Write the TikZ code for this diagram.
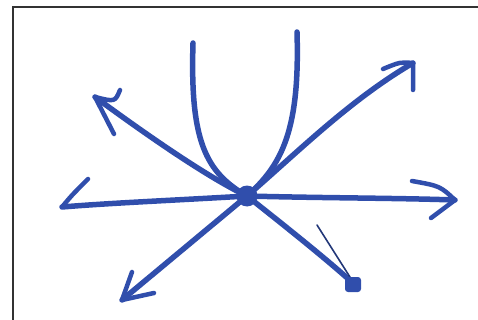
\documentclass[tikz,border=0pt]{standalone}
\begin{document}
\begin{tikzpicture}[x=1pt,y=-1pt,
  ink/.style={draw=penblue,line width=5.5pt,line cap=round,line join=round},
  barb/.style={draw=penblue,line width=4.5pt,line cap=round,line join=round},
  thinbarb/.style={draw=penblue!70!black,line width=1.6pt,line cap=round}]
\definecolor{penblue}{RGB}{48,78,172}
\useasboundingbox (0,0) rectangle (478,320);
% frame (left and top edges visible)
\draw[line width=2pt,black!80] (12.5,320) -- (12.5,7) -- (478,7);
% centre node
\node[circle,fill=penblue,inner sep=0pt,minimum size=21pt] (c) at (247,196) {};
% ray ends
\coordinate (L) at (62,207);
\coordinate (R) at (455,200);
\coordinate (UL) at (95,97);
\coordinate (UR) at (413,63);
\coordinate (DL) at (122,300);
\coordinate (DR) at (355,285);
\coordinate (CL) at (193,43);
\coordinate (CR) at (297,32);
% rays
\draw[ink] (c.center) .. controls (180,200) and (110,203) .. (L);
\draw[ink] (c.center) .. controls (320,198) and (400,198) .. (R);
\draw[ink] (c.center) .. controls (205,176) and (140,130) .. (UL);
\draw[ink] (c.center) .. controls (300,150) and (350,100) .. (UR);
\draw[ink] (c.center) -- (DL);
\draw[ink] (c.center) .. controls (290,230) and (330,262) .. (DR);
\draw[ink] (CL) .. controls (190,140) and (205,172) .. (c.center);
\draw[ink] (CR) .. controls (300,130) and (282,165) .. (c.center);
% barbs
\draw[barb] (L) .. controls (72,195) .. (88,179);
\draw[barb] (412,181) .. controls (440,186) .. (R) -- (431,218);
\draw[barb] (UL) -- (114,134);
\draw[barb] (UL) .. controls (115,102) .. (120,90);
\draw[barb] (383,69) .. controls (400,62) .. (UR) -- (413,90);
\draw[barb] (132,272) -- (DL) -- (154,293);
\draw[thinbarb] (317,225) -- (DR);
\fill[penblue,rounded corners=3pt] (DR) ++(-10,-8) rectangle ++(16,15);
\end{tikzpicture}
\end{document}
